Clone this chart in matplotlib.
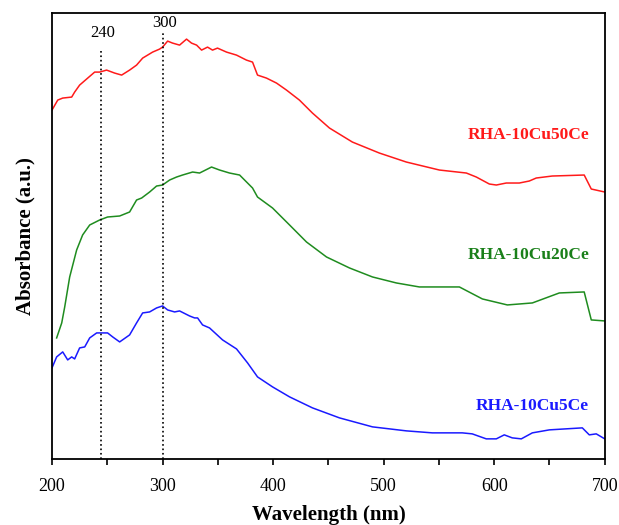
import matplotlib
matplotlib.use("Agg")
import matplotlib.pyplot as plt
from matplotlib.ticker import MultipleLocator

plt.rcParams['font.family'] = ['Liberation Serif', 'DejaVu Serif']

# wavelength (nm) and absorbance (a.u., curves stacked as in the figure)
wl_50ce = [200.0, 205.2, 209.7, 217.8, 220.5, 225.0, 232.3, 238.6, 243.1, 249.4,
           256.7, 263.0, 270.2, 276.5, 282.0, 286.5, 291.0, 297.3, 300.0, 304.6,
           309.1, 315.4, 321.7, 326.2, 330.8, 335.3, 340.7, 345.2, 349.7, 357.9,
           366.9, 375.9, 381.4, 385.9, 394.0, 403.1, 412.1, 423.8, 435.6, 451.0,
           471.7, 496.1, 520.5, 550.4, 574.8, 583.8, 595.6, 601.9, 610.9, 622.7,
           631.7, 638.0, 652.5, 681.4, 687.8, 700.0]
ab_50ce = [3.49, 3.59, 3.61, 3.62, 3.67, 3.74, 3.81, 3.87, 3.87, 3.89,
           3.86, 3.84, 3.89, 3.94, 4.01, 4.04, 4.07, 4.10, 4.12, 4.18,
           4.16, 4.14, 4.20, 4.16, 4.14, 4.09, 4.12, 4.09, 4.11, 4.07,
           4.04, 3.99, 3.97, 3.84, 3.81, 3.76, 3.69, 3.59, 3.46, 3.31,
           3.17, 3.06, 2.97, 2.89, 2.86, 2.82, 2.75, 2.74, 2.76, 2.76,
           2.78, 2.81, 2.83, 2.84, 2.70, 2.67]

wl_20ce = [204.2, 208.8, 211.5, 216.0, 222.3, 227.7, 234.1, 243.1, 250.3, 261.2,
           270.2, 276.5, 281.1, 288.3, 294.6, 300.0, 306.4, 312.7, 318.1, 327.2,
           333.5, 344.3, 351.6, 360.6, 369.7, 376.0, 381.4, 385.9, 399.5, 414.9,
           430.2, 448.3, 469.1, 489.9, 511.5, 532.3, 568.5, 589.3, 611.9, 634.5,
           658.9, 681.4, 687.8, 700.0]
ab_20ce = [1.21, 1.36, 1.52, 1.82, 2.09, 2.24, 2.34, 2.39, 2.42, 2.43,
           2.47, 2.59, 2.61, 2.67, 2.73, 2.74, 2.79, 2.82, 2.84, 2.87,
           2.86, 2.92, 2.89, 2.86, 2.84, 2.77, 2.71, 2.62, 2.51, 2.34,
           2.17, 2.02, 1.91, 1.82, 1.76, 1.72, 1.72, 1.60, 1.54, 1.56,
           1.66, 1.67, 1.39, 1.38]

wl_5ce = [200.0, 204.2, 209.7, 214.2, 217.8, 220.5, 225.0, 229.6, 234.1, 240.4,
          250.3, 254.9, 261.2, 270.2, 276.5, 282.0, 288.3, 294.6, 300.0, 304.6,
          310.9, 315.4, 324.4, 329.0, 331.7, 336.2, 342.5, 354.3, 366.9, 376.9,
          385.9, 399.5, 414.9, 435.6, 460.0, 489.9, 520.5, 544.0, 571.1, 580.1,
          592.8, 601.9, 609.1, 616.3, 624.5, 634.5, 649.9, 679.7, 686.0, 692.3,
          700.0]
ab_5ce = [0.91, 1.02, 1.07, 0.99, 1.02, 1.00, 1.11, 1.12, 1.21, 1.26,
          1.26, 1.22, 1.17, 1.24, 1.36, 1.46, 1.47, 1.51, 1.53, 1.49,
          1.47, 1.48, 1.43, 1.41, 1.41, 1.34, 1.31, 1.19, 1.10, 0.96,
          0.82, 0.72, 0.62, 0.51, 0.41, 0.32, 0.28, 0.26, 0.26, 0.25,
          0.20, 0.20, 0.24, 0.21, 0.20, 0.26, 0.29, 0.31, 0.24, 0.25,
          0.20]

peaks = [244, 300]
peak_labels = ['240', '300']
peak_tops = [4.09, 4.27]
peak_label_y = [4.26, 4.36]

fig = plt.figure(figsize=(6.19, 5.25), dpi=100)
ax = fig.add_axes([0.084, 0.126, 0.893, 0.849])

ax.plot(wl_50ce, ab_50ce, color='#ff1a1a', lw=1.1)
ax.plot(wl_20ce, ab_20ce, color='#1f8c1f', lw=1.1)
ax.plot(wl_5ce, ab_5ce, color='#1a1aff', lw=1.1)

for x, lab, top, ly in zip(peaks, peak_labels, peak_tops, peak_label_y):
    ax.vlines(x, 0, top, colors='k', linestyles=':', lw=1.2)
    ax.text(x + 2, ly, lab, ha='center', va='center', fontsize=12)

ax.text(686, 3.24, 'RHA-10Cu50Ce', color='#ff1a1a', fontsize=12.5,
        fontweight='bold', ha='right', va='center')
ax.text(686, 2.04, 'RHA-10Cu20Ce', color='#1a801a', fontsize=12.5,
        fontweight='bold', ha='right', va='center')
ax.text(686, 0.53, 'RHA-10Cu5Ce', color='#1a1aff', fontsize=12.5,
        fontweight='bold', ha='right', va='center')

ax.set_xlim(200, 700)
ax.set_ylim(0, 4.46)
ax.xaxis.set_major_locator(MultipleLocator(100))
ax.xaxis.set_minor_locator(MultipleLocator(50))
ax.set_yticks([])
ax.tick_params(axis='x', which='both', direction='out', length=4, width=1.2,
               labelsize=13, top=False, pad=10)
for s in ax.spines.values():
    s.set_linewidth(1.3)

ax.set_xlabel('Wavelength (nm)', fontsize=15, fontweight='bold', labelpad=7)
ax.set_ylabel('Absorbance (a.u.)', fontsize=15, fontweight='bold', labelpad=12)

fig.savefig('out.png', dpi=100)
